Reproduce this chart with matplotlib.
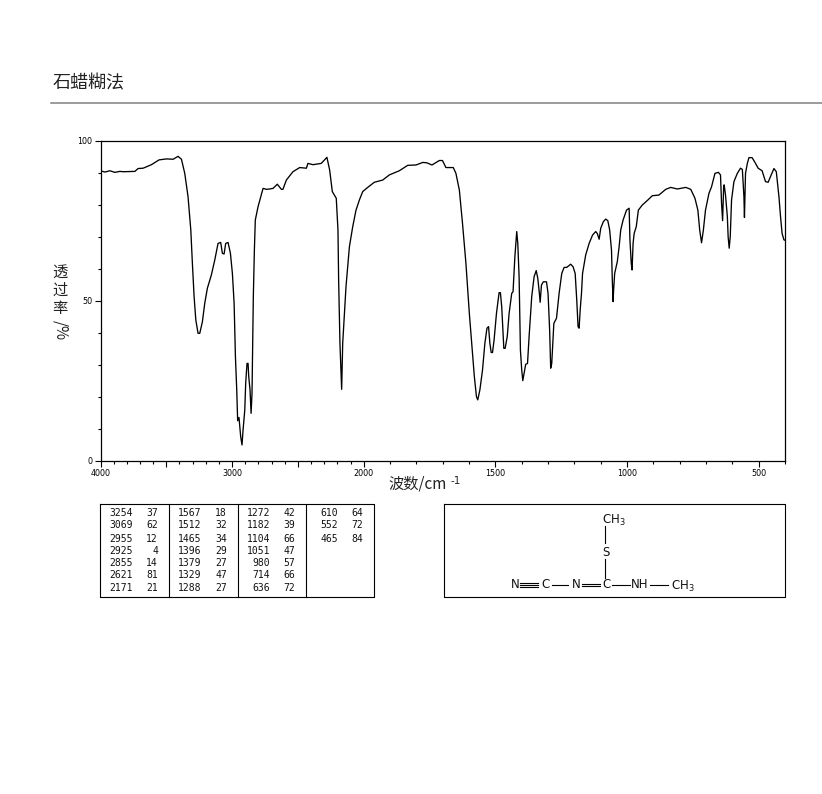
import numpy as np
import matplotlib
matplotlib.use("Agg")
import matplotlib.pyplot as plt
from matplotlib.ticker import FixedLocator, FixedFormatter

plt.rcParams['font.family'] = ['Noto Sans CJK SC', 'DejaVu Sans']

# spectrum: wavenumber (cm-1), transmittance (%)
wavenumber = [
    4000, 3967, 3929, 3891, 3853, 3828, 3739, 3714, 3676, 3613, 3555, 3499, 3448, 3411, 3385, 3360,
    3335, 3314, 3302, 3289, 3276, 3259, 3246, 3226, 3208, 3188, 3158, 3132, 3107, 3087, 3074, 3061,
    3049, 3031, 3013, 2998, 2985, 2975, 2965, 2958, 2948, 2935, 2925, 2917, 2904, 2897, 2887, 2879,
    2874, 2864, 2856, 2849, 2846, 2839, 2831, 2824, 2803, 2765, 2740, 2715, 2689, 2657, 2626, 2614,
    2588, 2538, 2487, 2436, 2424, 2386, 2323, 2280, 2259, 2239, 2209, 2196, 2191, 2181, 2173, 2168,
    2160, 2135, 2109, 2084, 2059, 2033, 2008, 1985, 1960, 1928, 1903, 1865, 1833, 1802, 1776, 1761,
    1741, 1713, 1701, 1688, 1660, 1650, 1637, 1625, 1612, 1599, 1589, 1580, 1572, 1567, 1559, 1549,
    1540, 1532, 1526, 1521, 1516, 1511, 1505, 1496, 1486, 1481, 1476, 1472, 1468, 1463, 1455, 1448,
    1438, 1433, 1426, 1419, 1415, 1410, 1405, 1400, 1396, 1390, 1385, 1378, 1372, 1362, 1353, 1345,
    1339, 1333, 1330, 1325, 1318, 1306, 1300, 1294, 1290, 1286, 1278, 1268, 1258, 1248, 1239, 1229,
    1214, 1205, 1197, 1191, 1186, 1182, 1178, 1173, 1169, 1157, 1144, 1131, 1119, 1113, 1106, 1100,
    1090, 1081, 1073, 1066, 1059, 1056, 1053, 1051, 1047, 1037, 1030, 1024, 1015, 1002, 992, 989,
    984, 981, 977, 973, 965, 957, 942, 923, 904, 879, 853, 834, 809, 777, 758, 742,
    731, 724, 717, 710, 702, 689, 679, 666, 653, 645, 641, 637, 633, 631, 626, 619,
    616, 612, 608, 603, 594, 581, 569, 562, 556, 554, 550, 543, 537, 525, 514, 502,
    487, 474, 464, 455, 442, 433, 423, 417, 411, 404, 400,
]
transmittance = [
    90.7, 90.3, 90.7, 90.2, 90.5, 90.4, 90.5, 91.4, 91.5, 92.6, 94.1, 94.4, 94.3, 95.2, 94.3, 89.9,
    82.6, 72.2, 61.8, 51.4, 44.1, 39.9, 39.9, 43.5, 49.3, 54.0, 58.1, 62.8, 68.0, 68.3, 64.9, 64.7,
    68.0, 68.3, 64.9, 58.6, 49.3, 32.6, 22.2, 12.6, 13.6, 7.6, 5.0, 9.7, 15.9, 24.3, 30.5, 30.5,
    26.4, 22.2, 14.9, 21.1, 29.5, 51.4, 65.9, 75.3, 79.5, 85.2, 84.9, 85.0, 85.2, 86.5, 84.9, 84.9,
    87.8, 90.4, 91.7, 91.5, 93.0, 92.6, 93.0, 94.9, 90.9, 84.2, 82.1, 72.2, 56.6, 36.8, 27.4, 22.4,
    36.8, 54.5, 67.0, 73.2, 78.4, 81.6, 84.2, 85.5, 87.1, 87.8, 89.4, 90.7, 92.4, 92.5, 93.3, 93.2,
    92.5, 93.9, 93.9, 91.7, 91.7, 89.9, 84.7, 74.3, 61.8, 46.1, 35.7, 26.4, 20.1, 19.1, 22.2, 28.4,
    36.8, 41.5, 42.0, 36.8, 33.9, 33.9, 37.8, 46.1, 52.6, 52.6, 48.2, 42.0, 35.2, 35.2, 38.9, 46.1,
    52.4, 52.9, 63.9, 71.7, 68.0, 57.6, 34.7, 28.4, 25.1, 27.9, 30.2, 30.5, 38.9, 51.4, 57.6, 59.5,
    57.1, 52.4, 49.6, 55.0, 56.0, 56.0, 52.4, 40.9, 29.0, 30.5, 43.0, 44.6, 52.4, 58.6, 60.5, 60.5,
    61.5, 60.7, 58.6, 50.3, 42.0, 41.5, 47.2, 52.4, 58.6, 64.4, 68.0, 70.6, 71.7, 71.1, 69.3, 72.7,
    74.8, 75.6, 75.1, 72.2, 65.9, 56.6, 49.8, 53.4, 58.6, 62.3, 67.0, 72.2, 75.3, 78.4, 79.0, 69.1,
    61.8, 59.7, 68.0, 71.1, 73.2, 78.4, 80.0, 81.4, 82.9, 83.1, 84.9, 85.5, 85.0, 85.5, 84.9, 82.1,
    78.4, 72.2, 68.2, 72.2, 78.4, 83.6, 85.7, 89.9, 90.2, 89.4, 80.5, 75.1, 85.7, 86.3, 83.1, 76.4,
    70.1, 66.5, 70.1, 81.6, 87.3, 89.9, 91.5, 91.1, 82.6, 76.1, 89.9, 93.0, 94.8, 94.8, 93.3, 91.5,
    90.7, 87.3, 87.1, 88.9, 91.4, 90.4, 82.6, 76.4, 71.1, 69.1, 69.0,
]

# peak table, one list per column
peak_wn = [
    [3254, 3069, 2955, 2925, 2855, 2621, 2171],
    [1567, 1512, 1465, 1396, 1379, 1329, 1288],
    [1272, 1182, 1104, 1051, 980, 714, 636],
    [610, 552, 465],
]
peak_t = [
    [37, 62, 12, 4, 14, 81, 21],
    [18, 32, 34, 29, 27, 47, 27],
    [42, 39, 66, 47, 57, 66, 72],
    [64, 72, 84],
]

x_labels = {4000: "4000", 3000: "3000", 2000: "2000", 1500: "1500", 1000: "1000", 500: "500"}


def to_scale(w):
    # range above 2000 is drawn at half the scale of the range below
    w = np.asarray(w, dtype=float)
    return np.where(w >= 2000, 1600 + (w - 2000) * 0.5, w - 400)


def from_scale(p):
    p = np.asarray(p, dtype=float)
    return np.where(p >= 1600, 2000 + (p - 1600) * 2, p + 400)


W, H = 822, 794
fig = plt.figure(figsize=(W / 100, H / 100), dpi=100)

# page layer in pixel coordinates for the header, table and structure
page = fig.add_axes([0, 0, 1, 1])
page.set_xlim(0, W)
page.set_ylim(H, 0)
page.axis("off")

page.text(53, 83, "石蜡糊法", fontsize=13, color="#222222", va="center", ha="left")
page.plot([51, 822], [103, 103], color="#808080", lw=1.1)

# y label, stacked by hand
for ch, y, rot in [("透", 272, 0), ("过", 290, 0), ("率", 309, 0), ("/", 323, 270), ("%", 332, 270)]:
    page.text(60, y, ch, fontsize=11, color="#222222", ha="center", va="center", rotation=rot)
page.text(388, 484, "波数/cm", fontsize=11, color="#222222", ha="left", va="center")
page.text(450, 481, "-1", family="DejaVu Sans", fontsize=7.5, color="#222222", ha="left", va="center")

# peak table
page.plot([100, 374, 374, 100, 100], [504, 504, 596.5, 596.5, 504], color="black", lw=0.8)
for x in [169, 237.5, 306]:
    page.plot([x, x], [504, 596.5], color="black", lw=0.8)
row_y = [513, 525.5, 538.5, 550.5, 563, 575.5, 588]
wn_right = [133, 201, 270, 338]
t_right = [158, 227, 295, 363]
for c in range(4):
    for r in range(len(peak_wn[c])):
        page.text(wn_right[c], row_y[r], str(peak_wn[c][r]), family="DejaVu Sans Mono", fontsize=7,
                  ha="right", va="center", color="#111111")
        page.text(t_right[c], row_y[r], str(peak_t[c][r]), family="DejaVu Sans Mono", fontsize=7,
                  ha="right", va="center", color="#111111")

# structure box
page.plot([443.5, 785, 785, 443.5, 443.5], [504, 504, 596.5, 596.5, 504], color="black", lw=0.8)
bonds = [
    ((605, 605), (526, 543)),
    ((605, 605), (559, 578)),
    ((551.5, 568), (584.5, 584.5)),
    ((611.5, 630), (584.5, 584.5)),
    ((650, 668), (584.5, 584.5)),
    ((520, 538), (582.5, 582.5)),
    ((520, 538), (584.5, 584.5)),
    ((520, 538), (586.5, 586.5)),
    ((581.5, 600), (583.5, 583.5)),
    ((581.5, 600), (585.5, 585.5)),
]
for bx, by in bonds:
    page.plot(bx, by, color="black", lw=0.8)
atoms = [
    (602, 520, "CH$_3$"), (606, 552, "S"), (515, 585, "N"), (545.5, 585, "C"),
    (576, 585, "N"), (606, 585, "C"), (631, 585, "NH"), (671, 586, "CH$_3$"),
]
for ax_, ay, label in atoms:
    ha = "left" if label.startswith(("CH", "NH")) else "center"
    page.text(ax_, ay, label, family="DejaVu Sans", fontsize=8.5, ha=ha, va="center", color="#111111",
              math_fontfamily="dejavusans")

# spectrum
ax = fig.add_axes([100.5 / W, 1 - 461 / H, 684.5 / W, 320 / H])
ax.set_xscale("function", functions=(to_scale, from_scale))
ax.plot(wavenumber, transmittance, color="black", lw=0.95)
ax.set_xlim(4000, 400)
ax.set_ylim(0, 100)

for s in ax.spines.values():
    s.set_linewidth(0.9)

ax.xaxis.set_major_locator(FixedLocator(list(range(4000, 0, -500))))
ax.xaxis.set_major_formatter(FixedFormatter(
    [x_labels.get(v, "") for v in range(4000, 0, -500)]))
ax.xaxis.set_minor_locator(FixedLocator(list(range(4000, 399, -100))))
ax.xaxis.set_minor_formatter(FixedFormatter([]))
ax.set_yticks([0, 50, 100])
ax.set_yticklabels(["0", "50", "100"])
ax.set_yticks(list(range(0, 101, 10)), minor=True)

ax.tick_params(axis="both", which="major", length=4, width=0.8, labelsize=5.8, pad=2,
               labelfontfamily="DejaVu Sans")
ax.tick_params(axis="both", which="minor", length=2.2, width=0.8)

fig.savefig("out.png", dpi=100)
